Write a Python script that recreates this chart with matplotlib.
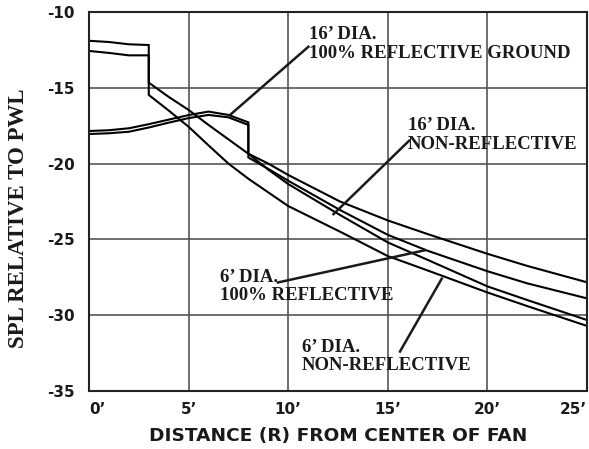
import matplotlib.pyplot as plt

# 16' dia, 100% reflective ground
x_16_refl = [0, 1, 2, 3, 4, 5, 6, 7, 8, 8, 9, 10, 12.6, 15, 17, 20, 22, 25]
y_16_refl = [-17.85, -17.8, -17.67, -17.4, -17.1, -16.8, -16.57, -16.79, -17.28,
             -19.35, -20.0, -20.75, -22.5, -23.75, -24.65, -25.95, -26.75, -27.83]

# 16' dia, non-reflective
x_16_non = [0, 1, 2, 3, 4, 5, 6, 7, 8, 8, 9, 10, 12.6, 15, 17, 20, 22, 25]
y_16_non = [-18.05, -18.0, -17.9, -17.62, -17.3, -17.0, -16.79, -16.95, -17.45,
            -19.6, -20.35, -21.13, -23.06, -24.7, -25.75, -27.1, -27.9, -28.89]

# 6' dia, 100% reflective
x_6_refl = [0, 1, 2, 3, 3, 4, 5, 6, 7, 8, 9, 10, 12.6, 15, 17, 20, 22, 25]
y_6_refl = [-11.9, -11.98, -12.13, -12.18, -14.66, -15.6, -16.46, -17.45, -18.4,
            -19.35, -20.4, -21.35, -23.39, -25.2, -26.35, -28.1, -29.0, -30.32]

# 6' dia, non-reflective
x_6_non = [0, 1, 2, 3, 3, 4, 5, 6, 7, 8, 9, 10, 12.6, 15, 17, 20, 22, 25]
y_6_non = [-12.57, -12.7, -12.86, -12.86, -15.47, -16.5, -17.57, -18.8, -20.0,
           -21.0, -21.9, -22.8, -24.49, -26.1, -27.05, -28.5, -29.4, -30.71]

x_ticks = [0, 5, 10, 15, 20, 25]
x_tick_labels = ["0\u2019", "5\u2019", "10\u2019", "15\u2019", "20\u2019", "25\u2019"]
y_ticks = [-35, -30, -25, -20, -15, -10]

# (label, text anchor, pointer start, pointer end)
callouts = [
    ("16\u2019 DIA.\n100% REFLECTIVE GROUND", (11.05, -10.95), (11.06, -12.24), (7.08, -16.79)),
    ("16\u2019 DIA.\nNON-REFLECTIVE", (16.0, -16.95), (16.11, -18.44), (12.23, -23.39)),
    ("6\u2019 DIA.\n100% REFLECTIVE", (6.6, -26.95), (9.42, -27.86), (16.92, -25.7)),
    ("6\u2019 DIA.\nNON-REFLECTIVE", (10.7, -31.55), (15.58, -32.47), (17.74, -27.52)),
]

fig = plt.figure(figsize=(5.89, 4.49), dpi=100)
ax = fig.add_axes([0.1511, 0.1292, 0.8455, 0.8441])

lw = 1.5
for xs, ys in [(x_16_refl, y_16_refl), (x_16_non, y_16_non),
               (x_6_refl, y_6_refl), (x_6_non, y_6_non)]:
    ax.plot(xs, ys, color='black', lw=lw, solid_joinstyle='miter')

serif = ['Liberation Serif', 'DejaVu Serif']
for text, (tx, ty), (x0, y0), (x1, y1) in callouts:
    ax.text(tx, ty, text, fontsize=13.5, fontweight='bold', family=serif,
            va='top', ha='left', linespacing=1.1, color='#1a1a1a')
    ax.plot([x0, x1], [y0, y1], color='#1a1a1a', lw=1.8, solid_capstyle='butt')

ax.set_xlim(0, 25)
ax.set_ylim(-35, -10)
ax.set_xticks(x_ticks)
ax.set_xticklabels(x_tick_labels)
ax.set_yticks(y_ticks)
ax.set_yticklabels([str(v) for v in y_ticks])
ax.tick_params(length=0, labelsize=11, pad=10)
ax.tick_params(axis='x', pad=8)
for lab in ax.get_xticklabels() + ax.get_yticklabels():
    lab.set_family('DejaVu Sans')
    lab.set_fontweight('bold')
    lab.set_color('#1a1a1a')
xl = ax.get_xticklabels()
xl[0].set_ha('left')
xl[-1].set_ha('right')

ax.grid(True, color='#555555', lw=1.2)
for sp in ax.spines.values():
    sp.set_linewidth(1.5)
    sp.set_color('#222222')

ax.set_xlabel("DISTANCE (R) FROM CENTER OF FAN", fontsize=13.3, fontweight='bold',
              family='DejaVu Sans', labelpad=7, color='#1a1a1a')
ax.set_ylabel("SPL RELATIVE TO PWL", fontsize=16.5, fontweight='bold',
              family=serif, color='#1a1a1a')
ax.yaxis.set_label_coords(-0.12, 0.456)

fig.savefig('out.png', dpi=100)
